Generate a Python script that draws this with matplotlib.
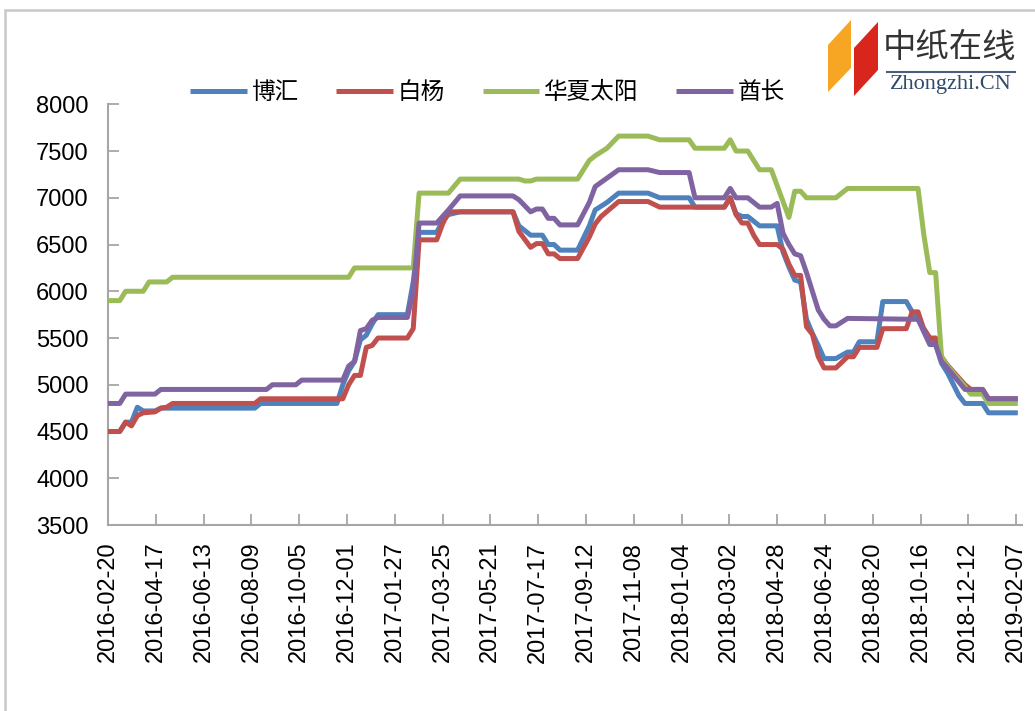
import matplotlib
matplotlib.use('Agg')
import matplotlib.pyplot as plt
import matplotlib.dates as mdates
from matplotlib.patches import Polygon, Rectangle
from matplotlib.lines import Line2D
import pandas as pd

plt.rcParams['font.family'] = ['Liberation Sans', 'Noto Sans CJK SC', 'DejaVu Sans']

series_names = ['博汇', '白杨', '华夏太阳', '酋长']
colors = ['#4F81BD', '#C0504D', '#9BBB59', '#8064A2']

bohui_dates = ['2016-02-20', '2016-03-05', '2016-03-12', '2016-03-19', '2016-03-26', '2016-04-02',
               '2016-04-16', '2016-04-23', '2016-08-13', '2016-08-20', '2016-11-19', '2016-11-26',
               '2016-12-03', '2016-12-10', '2016-12-17', '2016-12-24', '2016-12-31', '2017-01-07',
               '2017-02-11', '2017-02-18', '2017-02-25', '2017-03-18', '2017-03-25', '2017-04-01',
               '2017-04-15', '2017-06-17', '2017-06-24', '2017-07-08', '2017-07-22', '2017-07-29',
               '2017-08-05', '2017-08-12', '2017-09-02', '2017-09-16', '2017-09-23', '2017-10-07',
               '2017-10-21', '2017-11-25', '2017-12-09', '2018-01-13', '2018-01-20', '2018-02-24',
               '2018-03-03', '2018-03-10', '2018-03-17', '2018-03-24', '2018-04-07', '2018-04-28',
               '2018-05-05', '2018-05-12', '2018-05-19', '2018-05-26', '2018-06-02', '2018-06-09',
               '2018-06-16', '2018-06-23', '2018-07-07', '2018-07-21', '2018-07-28', '2018-08-04',
               '2018-08-25', '2018-09-01', '2018-09-29', '2018-10-06', '2018-10-13', '2018-10-27',
               '2018-11-03', '2018-11-10', '2018-11-17', '2018-12-01', '2018-12-08', '2018-12-29',
               '2019-01-05', '2019-02-09']
bohui_values = [4500, 4500, 4600, 4600, 4760, 4720,
                4720, 4750, 4750, 4800, 4800, 5000,
                5150, 5250, 5480, 5530, 5650, 5750,
                5750, 6100, 6630, 6630, 6750, 6820,
                6850, 6850, 6700, 6600, 6600, 6500,
                6500, 6440, 6440, 6700, 6870, 6950,
                7050, 7050, 7000, 7000, 6900, 6900,
                7000, 6830, 6800, 6800, 6700, 6700,
                6420, 6260, 6120, 6100, 5700, 5550,
                5420, 5280, 5280, 5350, 5350, 5460,
                5460, 5890, 5890, 5780, 5700, 5500,
                5430, 5230, 5130, 4880, 4800, 4800,
                4700, 4700]

baiyang_dates = ['2016-02-20', '2016-03-05', '2016-03-12', '2016-03-19', '2016-03-26', '2016-04-02',
                 '2016-04-16', '2016-04-23', '2016-04-30', '2016-05-07', '2016-08-13', '2016-08-20',
                 '2016-11-26', '2016-12-03', '2016-12-10', '2016-12-17', '2016-12-24', '2016-12-31',
                 '2017-01-07', '2017-02-11', '2017-02-18', '2017-02-25', '2017-03-18', '2017-03-25',
                 '2017-04-01', '2017-06-17', '2017-06-24', '2017-07-08', '2017-07-15', '2017-07-22',
                 '2017-07-29', '2017-08-05', '2017-08-12', '2017-09-02', '2017-09-16', '2017-09-23',
                 '2017-09-30', '2017-10-21', '2017-11-25', '2017-12-09', '2018-02-24', '2018-03-03',
                 '2018-03-10', '2018-03-17', '2018-03-24', '2018-03-31', '2018-04-07', '2018-04-28',
                 '2018-05-05', '2018-05-12', '2018-05-19', '2018-05-26', '2018-06-02', '2018-06-09',
                 '2018-06-16', '2018-06-23', '2018-07-07', '2018-07-21', '2018-07-28', '2018-08-04',
                 '2018-08-25', '2018-09-01', '2018-09-29', '2018-10-06', '2018-10-13', '2018-10-20',
                 '2018-10-27', '2018-11-03', '2018-11-10', '2018-11-17', '2018-12-08', '2018-12-15',
                 '2018-12-29', '2019-01-05', '2019-02-09']
baiyang_values = [4500, 4500, 4600, 4560, 4670, 4700,
                  4710, 4750, 4760, 4800, 4800, 4850,
                  4850, 5000, 5100, 5100, 5400, 5420,
                  5500, 5500, 5600, 6550, 6550, 6720,
                  6850, 6850, 6640, 6470, 6510, 6510,
                  6400, 6400, 6350, 6350, 6580, 6720,
                  6800, 6960, 6960, 6900, 6900, 7000,
                  6820, 6730, 6730, 6600, 6500, 6500,
                  6450, 6290, 6170, 6170, 5620, 5540,
                  5300, 5180, 5180, 5300, 5300, 5400,
                  5400, 5600, 5600, 5780, 5780, 5590,
                  5500, 5500, 5300, 5210, 5000, 4950,
                  4950, 4850, 4850]

huaxia_dates = ['2016-02-20', '2016-03-05', '2016-03-12', '2016-04-02', '2016-04-09', '2016-04-30',
                '2016-05-07', '2016-12-03', '2016-12-10', '2017-02-18', '2017-02-25', '2017-04-01',
                '2017-04-15', '2017-06-24', '2017-07-01', '2017-07-08', '2017-07-15', '2017-09-02',
                '2017-09-09', '2017-09-16', '2017-09-23', '2017-10-07', '2017-10-21', '2017-11-25',
                '2017-12-09', '2018-01-13', '2018-01-20', '2018-02-24', '2018-03-03', '2018-03-10',
                '2018-03-24', '2018-04-07', '2018-04-21', '2018-05-12', '2018-05-19', '2018-05-26',
                '2018-06-02', '2018-07-07', '2018-07-21', '2018-10-13', '2018-10-20', '2018-10-27',
                '2018-11-03', '2018-11-10', '2018-11-17', '2018-12-08', '2018-12-15', '2018-12-29',
                '2019-01-05', '2019-02-09']
huaxia_values = [5900, 5900, 6000, 6000, 6100, 6100,
                 6150, 6150, 6250, 6250, 7050, 7050,
                 7200, 7200, 7180, 7180, 7200, 7200,
                 7300, 7400, 7450, 7530, 7660, 7660,
                 7620, 7620, 7530, 7530, 7620, 7500,
                 7500, 7300, 7300, 6790, 7070, 7070,
                 7000, 7000, 7100, 7100, 6600, 6200,
                 6200, 5300, 5200, 4980, 4900, 4900,
                 4800, 4800]

qiuzhang_dates = ['2016-02-20', '2016-03-05', '2016-03-12', '2016-04-16', '2016-04-23', '2016-08-27',
                  '2016-09-03', '2016-10-01', '2016-10-08', '2016-11-26', '2016-12-03', '2016-12-10',
                  '2016-12-17', '2016-12-24', '2016-12-31', '2017-01-07', '2017-02-11', '2017-02-18',
                  '2017-02-25', '2017-03-18', '2017-03-25', '2017-04-01', '2017-04-15', '2017-06-17',
                  '2017-06-24', '2017-07-08', '2017-07-15', '2017-07-22', '2017-07-29', '2017-08-05',
                  '2017-08-12', '2017-09-02', '2017-09-16', '2017-09-23', '2017-10-07', '2017-10-21',
                  '2017-11-25', '2017-12-09', '2018-01-13', '2018-01-20', '2018-02-24', '2018-03-03',
                  '2018-03-10', '2018-03-24', '2018-04-07', '2018-04-21', '2018-04-28', '2018-05-05',
                  '2018-05-12', '2018-05-19', '2018-05-26', '2018-06-02', '2018-06-09', '2018-06-16',
                  '2018-06-23', '2018-06-30', '2018-07-07', '2018-07-21', '2018-10-13', '2018-10-27',
                  '2018-11-03', '2018-11-10', '2018-11-17', '2018-12-08', '2018-12-29', '2019-01-05',
                  '2019-02-09']
qiuzhang_values = [4800, 4800, 4900, 4900, 4950, 4950,
                   5000, 5000, 5050, 5050, 5200, 5250,
                   5580, 5600, 5690, 5720, 5720, 6000,
                   6730, 6730, 6800, 6870, 7020, 7020,
                   6980, 6850, 6880, 6880, 6780, 6780,
                   6710, 6710, 6950, 7120, 7210, 7300,
                   7300, 7270, 7270, 7000, 7000, 7100,
                   7000, 7000, 6900, 6900, 6940, 6620,
                   6500, 6400, 6380, 6200, 6000, 5800,
                   5700, 5630, 5630, 5710, 5700, 5430,
                   5430, 5250, 5180, 4950, 4950, 4850,
                   4850]

tick_start = '2016-02-20'
tick_end = '2019-02-07'
x_min = '2016-02-20'
x_max = '2019-02-14'
y_ticks = [3500, 4000, 4500, 5000, 5500, 6000, 6500, 7000, 7500, 8000]

W, H = 1035, 711
fig = plt.figure(figsize=(W / 100, H / 100), dpi=100)

# outer frame
fig.patches.append(Rectangle((5 / W, -0.05), 1.1, 1 - 10 / H + 0.05, transform=fig.transFigure,
                             fill=False, edgecolor='#C8C8C8', linewidth=1.8, zorder=0))

ax = fig.add_axes([108 / W, 1 - 525 / H, (1022 - 108) / W, (525 - 104.3) / H])

all_dates = [bohui_dates, baiyang_dates, huaxia_dates, qiuzhang_dates]
all_values = [bohui_values, baiyang_values, huaxia_values, qiuzhang_values]
handles = []
for i, (d, v) in enumerate(zip(all_dates, all_values)):
    ln, = ax.plot(pd.to_datetime(d), v, color=colors[i], linewidth=3.6,
                  solid_joinstyle='round', solid_capstyle='butt', zorder=3 + i, label=series_names[i])
    handles.append(ln)

ax.set_xlim(pd.Timestamp(x_min), pd.Timestamp(x_max))
ax.set_ylim(3500, 8000)
ax.set_yticks(y_ticks)
ax.set_yticklabels([str(t) for t in y_ticks])
ax.set_xticks(pd.date_range(tick_start, tick_end, freq='57D'))
ax.xaxis.set_major_formatter(mdates.DateFormatter('%Y-%m-%d'))

for s in ['top', 'right']:
    ax.spines[s].set_visible(False)
for s in ['left', 'bottom']:
    ax.spines[s].set_color('#A6A6A6')
    ax.spines[s].set_linewidth(1.5)

ax.tick_params(axis='both', direction='in', length=8, width=1.3, color='#A6A6A6',
               labelsize=17, labelcolor='black')
ax.tick_params(axis='y', pad=14)
ax.tick_params(axis='x', pad=12, labelrotation=90)

leg = fig.legend(handles=handles, labels=series_names, loc='center',
                 bbox_to_anchor=(487.5 / W, 1 - 93 / H), ncol=4, frameon=False,
                 fontsize=17, handlelength=2.4, handletextpad=0.2, columnspacing=1.6)

# logo
fig.patches.append(Polygon([(828 / W, 1 - 45 / H), (851 / W, 1 - 20 / H), (851 / W, 1 - 68 / H),
                            (828 / W, 1 - 92 / H)], closed=True, transform=fig.transFigure,
                           facecolor='#F6A623', edgecolor='none'))
fig.patches.append(Polygon([(854 / W, 1 - 48 / H), (878 / W, 1 - 22 / H), (878 / W, 1 - 70 / H),
                            (854 / W, 1 - 96 / H)], closed=True, transform=fig.transFigure,
                           facecolor='#D8261C', edgecolor='none'))
fig.text(950 / W, 1 - 47 / H, '中纸在线', ha='center', va='center', fontsize=24,
         color='#333333', family=['Noto Sans CJK SC'])
fig.add_artist(Line2D([887 / W, 1015 / W], [1 - 72 / H, 1 - 72 / H], transform=fig.transFigure,
                      color='#4A5F80', linewidth=1.5))
fig.text(951 / W, 1 - 84 / H, 'Zhongzhi.CN', ha='center', va='center', fontsize=16,
         color='#2F4A6D', family=['Liberation Serif'])

fig.savefig('out.png', dpi=100)
